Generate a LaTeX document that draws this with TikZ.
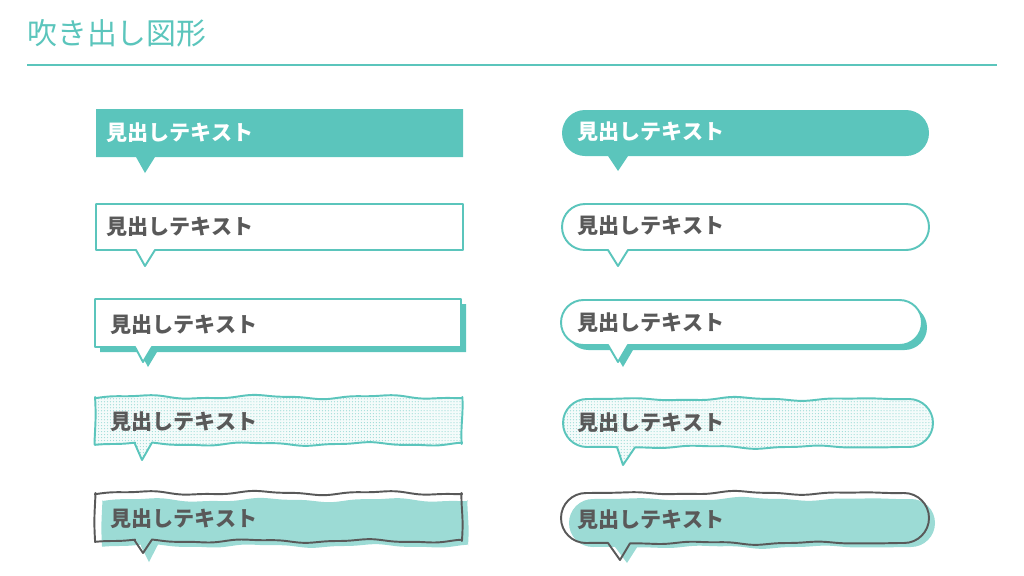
\documentclass[tikz,border=0pt]{standalone}
\usepackage{fontspec}
\setmainfont{Noto Sans CJK JP}
\usepackage{xcolor}
\usetikzlibrary{patterns.meta}
\definecolor{mint}{HTML}{5BC5BC}
\definecolor{mintlt}{HTML}{9CDBD5}
\definecolor{inkgray}{HTML}{595959}
% square callout: x1 y1 x2 y2 tailL tip tailR
\newcommand{\sqcall}[7]{(#5,#4) -- (#1,#4) -- (#1,#2) -- (#3,#2) -- (#3,#4) -- (#7,#4) -- (#6) -- cycle}
% pill callout: x1 y1 x2 y2 r tailL tip tailR
\newcommand{\pillcall}[8]{(#6,#4) -- ({#1+#5},#4) arc[start angle=270,end angle=90,radius=#5] -- ({#3-#5},#2) arc[start angle=90,end angle=-90,radius=#5] -- (#8,#4) -- (#7) -- cycle}
% hand drawn versions
\newcommand{\sqwave}[7]{(#5,#4)
  -- plot[domain=#5:#1,samples=8] (\x,{#4+1.4*sin(3.2*\x)+0.5*sin(8*\x)})
  -- plot[domain=#4:#2,samples=8] ({#1+0.6*sin(5*\x)},\x)
  -- plot[domain=#1:#3,samples=60] (\x,{#2+1.6*sin(3*\x+30)+0.6*sin(7.5*\x)})
  -- plot[domain=#2:#4,samples=8] ({#3+0.6*sin(6*\x)},\x)
  -- plot[domain=#3:#7,samples=60] (\x,{#4+1.4*sin(3.2*\x)+0.5*sin(8*\x)})
  -- (#6) -- cycle}
% xa = x1+r, xb = x2-r; waves fade out where the arcs join
\newcommand{\pillwave}[8]{(#6,#4)
  -- plot[domain=#6:#1,samples=6] (\x,{#4+(1.4*sin(3.2*\x)+0.5*sin(8*\x))*sin((\x-#1)/(#3-#1)*180)})
  arc[start angle=270,end angle=90,radius=#5]
  -- plot[domain=#1:#3,samples=60] (\x,{#2+(1.6*sin(3*\x+30)+0.6*sin(7.5*\x))*sin((\x-#1)/(#3-#1)*180)})
  arc[start angle=90,end angle=-90,radius=#5]
  -- plot[domain=#3:#8,samples=60] (\x,{#4+(1.4*sin(3.2*\x)+0.5*sin(8*\x))*sin((\x-#1)/(#3-#1)*180)})
  -- (#7) -- cycle}
\newcommand{\htext}[3]{\node [headtext] (#1) at (#2) {#3}}
\tikzset{
  headtext/.style={anchor=west, inner sep=0pt, text=inkgray, font=\fontsize{12pt}{14pt}\selectfont\bfseries},
  edge/.style={draw=mint, line width=1.1pt, line join=round},
  pen/.style={draw=inkgray, line width=1.1pt, line join=round},
  dotted fill/.style={preaction={fill=mint!7}, pattern={Dots[distance=1.7pt,radius=0.35pt]}, pattern color=mint!60},
}

\begin{document}
\begin{tikzpicture}[x=0.02cm, y=0.02cm, smooth]
\useasboundingbox (0,0) rectangle (1024,-575);

\node [anchor=west, inner sep=0pt, text=mint, font=\fontsize{17pt}{20pt}\selectfont] (title) at (27,-33) {吹き出し図形};
\coordinate (ruleL) at (27,-65);
\coordinate (ruleR) at (997,-65);
\draw [mint, line width=1.2pt] (ruleL) -- (ruleR);

% left column
\fill [mint] \sqcall{96}{-109}{463}{-157}{136}{145,-173}{155};
\htext{L1}{106,-133}{\textcolor{white}{見出しテキスト}};

\draw [edge, fill=white] \sqcall{96}{-204}{463}{-250}{136}{145,-266}{155};
\htext{L2}{106,-227}{見出しテキスト};

\fill [mint, shift={(5,-5)}] \sqcall{95}{-299}{461}{-347}{135}{143,-362}{152};
\draw [edge, fill=white] \sqcall{95}{-299}{461}{-347}{135}{143,-362}{152};
\htext{L3}{110,-325}{見出しテキスト};

\draw [edge, dotted fill] \sqwave{95}{-397}{462}{-444}{135}{142,-460}{152};
\htext{L4}{110,-422}{見出しテキスト};

\fill [mintlt, shift={(6,-6)}] \sqwave{96}{-494}{462}{-540}{135}{143,-556}{152};
\draw [pen] \sqwave{95}{-493}{462}{-541}{135}{143,-553}{152};
\htext{L5}{110,-519}{見出しテキスト};

% right column
\fill [mint] \pillcall{562}{-110}{929}{-156}{23}{608}{618,-171}{628};
\htext{R1}{577,-132}{\textcolor{white}{見出しテキスト}};

\draw [edge, fill=white] \pillcall{562}{-204}{929}{-250}{23}{608}{618,-266}{628};
\htext{R2}{577,-226}{見出しテキスト};

\fill [mint, shift={(5,-5)}] \pillcall{561}{-300}{922}{-345}{22.5}{608}{618,-362}{628};
\draw [edge, fill=white] \pillcall{561}{-300}{922}{-345}{22.5}{608}{618,-362}{628};
\htext{R3}{577,-323}{見出しテキスト};

\draw [edge, dotted fill] \pillwave{587}{-399}{909}{-447}{24}{617}{623,-465}{635};
\htext{R4}{577,-423}{見出しテキスト};

\fill [mintlt, shift={(7,-5)}] \pillwave{586}{-494}{904}{-542}{24}{608}{620,-558}{630};
\draw [pen] \pillwave{586}{-493}{904}{-543}{25}{608}{620,-560}{630};
\htext{R5}{577,-520}{見出しテキスト};

\end{tikzpicture}
\end{document}
